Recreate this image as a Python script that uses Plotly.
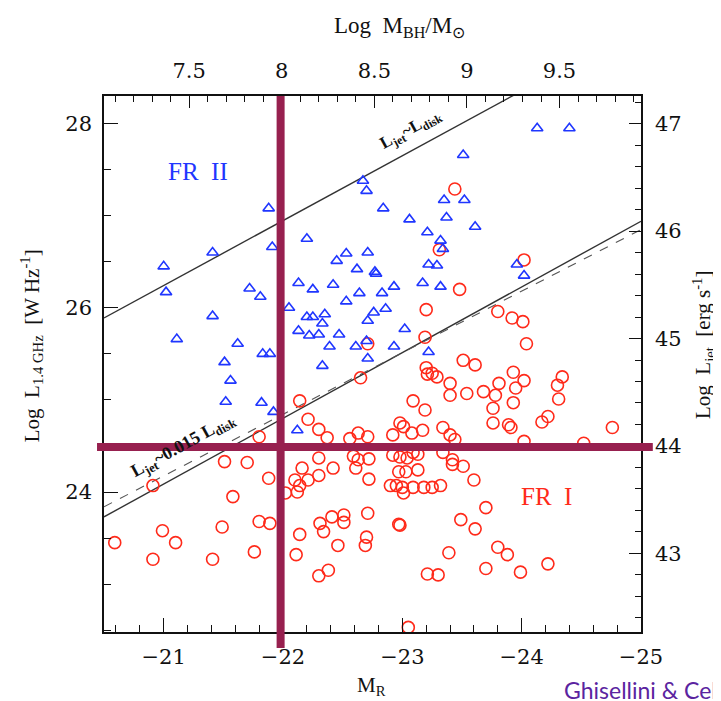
import plotly.graph_objects as go

# ---------------- data ----------------
# FR II sources (blue triangles): absolute R magnitude, log L(1.4 GHz)
fr2_MR = [-21.00, -21.02, -21.11, -21.41, -21.41, -21.62, -21.72, -21.81, -21.88, -21.91,
          -21.83, -21.89, -21.51, -21.56, -21.52, -21.82, -21.92, -22.12, -22.05, -22.13,
          -22.20, -22.25, -22.42, -22.45, -22.53, -22.62, -22.64, -22.53, -22.20, -22.25,
          -22.35, -22.33, -22.13, -22.22, -22.30, -22.47, -22.39, -22.61, -22.33, -22.67,
          -22.70, -22.71, -22.77, -22.78, -22.83, -22.93, -22.76, -22.86, -22.71, -22.70,
          -22.71, -22.93, -23.02, -23.17, -23.32, -23.22, -23.29, -23.32, -23.34, -23.21,
          -23.37, -23.06, -22.84, -23.35, -23.52, -23.51, -24.13, -24.40, -23.61, -23.96,
          -24.02, -23.22]
fr2_logL = [26.45, 26.17, 25.66, 26.60, 25.91, 25.61, 26.21, 26.12, 27.08, 26.66,
            25.50, 25.50, 25.41, 25.21, 24.98, 24.97, 24.87, 24.67, 26.00, 26.27,
            26.75, 26.20, 26.25, 26.51, 26.59, 26.42, 26.16, 26.07, 25.90, 25.90,
            25.93, 25.83, 25.75, 25.70, 25.71, 25.71, 25.58, 25.58, 25.37, 27.38,
            27.27, 26.60, 26.39, 26.37, 26.16, 26.23, 25.95, 25.99, 25.86, 25.64,
            25.45, 25.58, 25.77, 26.27, 26.23, 26.47, 26.46, 26.73, 26.64, 26.82,
            26.98, 26.96, 27.08, 27.17, 27.17, 27.66, 27.95, 27.95, 26.88, 26.47,
            26.35, 25.52]

# FR I sources (red circles)
fr1_MR = [-20.59, -20.91, -20.91, -20.99, -21.10, -21.41, -21.49, -21.51, -21.58, -21.70,
          -21.76, -21.80, -21.89, -21.80, -21.88, -22.02, -22.12, -22.10, -22.14, -22.21,
          -22.30, -22.16, -22.30, -22.42, -22.14, -22.11, -22.31, -22.34, -22.41, -22.51,
          -22.51, -22.46, -22.30, -22.38, -22.71, -22.70, -22.69, -22.97, -22.14, -22.21,
          -22.30, -22.37, -22.65, -22.56, -22.63, -22.71, -22.59, -22.63, -22.61, -22.72,
          -22.72, -22.92, -22.92, -22.90, -22.95, -22.98, -23.01, -23.09, -23.19, -23.17,
          -22.98, -23.04, -23.13, -22.97, -23.03, -23.13, -23.00, -23.09, -23.18, -23.25,
          -23.32, -23.01, -23.34, -23.40, -23.44, -23.42, -23.34, -23.21, -23.25, -23.29,
          -23.40, -23.40, -23.51, -23.61, -23.54, -23.68, -23.81, -23.78, -23.76, -23.93,
          -24.02, -23.95, -23.93, -24.34, -24.30, -24.31, -23.08, -23.76, -23.89, -23.91,
          -24.22, -24.17, -24.02, -24.52, -24.76, -23.42, -23.51, -23.60, -23.70, -22.98,
          -23.49, -23.61, -23.80, -23.88, -24.22, -23.39, -23.70, -23.99, -23.21, -23.30,
          -23.05, -23.44, -23.31, -24.02, -23.48, -23.20, -23.80, -23.92, -24.01, -23.19,
          -24.04, -22.71, -23.20, -23.09]
fr1_logL = [23.45, 24.07, 23.27, 23.58, 23.45, 23.27, 23.62, 24.33, 23.95, 24.32,
            23.35, 23.68, 23.66, 24.60, 24.15, 23.99, 24.00, 24.13, 24.07, 24.13,
            24.18, 24.26, 24.37, 24.26, 23.54, 23.32, 23.66, 23.57, 23.73, 23.75,
            23.67, 23.42, 23.09, 23.15, 23.77, 23.51, 23.42, 23.65, 24.99, 24.79,
            24.68, 24.59, 25.24, 24.58, 24.64, 24.60, 24.39, 24.35, 24.26, 24.36,
            24.14, 24.62, 24.40, 24.07, 24.07, 24.75, 24.71, 24.99, 24.89, 24.67,
            24.38, 24.37, 24.41, 24.22, 24.22, 24.24, 24.05, 24.05, 24.05, 24.05,
            24.07, 23.99, 24.70, 24.62, 24.57, 24.35, 24.43, 25.28, 25.29, 25.25,
            25.18, 25.05, 25.43, 25.38, 25.07, 25.09, 25.18, 25.05, 24.91, 25.30,
            25.21, 25.13, 24.97, 25.25, 25.16, 25.01, 24.64, 24.75, 24.73, 24.70,
            24.82, 24.76, 24.55, 24.53, 24.70, 24.30, 24.28, 24.13, 23.83, 23.64,
            23.70, 23.60, 23.40, 23.32, 23.22, 23.34, 23.17, 23.13, 23.11, 23.10,
            22.53, 27.29, 26.63, 26.52, 26.20, 25.98, 25.96, 25.89, 25.85, 25.68,
            25.61, 25.61, 25.35, 24.43]

# reference relations (end points across the M_R range)
line_MR = [-20.5, -25.0]
jet_eq_disk_L = [25.89, 29.06]        # L_jet ~ L_disk
jet_0015_disk_L = [23.73, 26.94]      # L_jet ~ 0.015 L_disk (solid)
jet_0015_alt_L = [23.84, 26.85]       # dashed variant

# dividing lines
div_MR = -21.98
div_logL = 24.49

# axis ranges
x_range = [-20.5, -25.0]
y_range = [22.48, 28.30]
mbh_range = [7.04, 9.94]                              # top axis: log M_BH/M_sun
ljet_range = [6.0 / 7.0 * v + 23.0 for v in y_range]  # right axis: log L_jet

# ---------------- figure ----------------
BLUE = "#1f36ff"
RED = "#ff2a1a"
MAROON = "#97204f"
SERIF = "Liberation Serif"
TICKSERIF = "DejaVu Serif"
INK = "#111111"

fig = go.Figure()

fig.add_trace(go.Scatter(x=line_MR, y=jet_eq_disk_L, mode="lines",
                         line=dict(color="#333333", width=1.4), hoverinfo="skip"))
fig.add_trace(go.Scatter(x=line_MR, y=jet_0015_disk_L, mode="lines",
                         line=dict(color="#333333", width=1.4), hoverinfo="skip"))
fig.add_trace(go.Scatter(x=line_MR, y=jet_0015_alt_L, mode="lines",
                         line=dict(color="#555555", width=1.1, dash="dash"), hoverinfo="skip"))

fig.add_trace(go.Scatter(x=fr1_MR, y=fr1_logL, mode="markers", name="FR I",
                         marker=dict(symbol="circle-open", size=12, color=RED,
                                     line=dict(width=1.6, color=RED))))
fig.add_trace(go.Scatter(x=fr2_MR, y=fr2_logL, mode="markers", name="FR II",
                         marker=dict(symbol="triangle-up-open", size=10, color=BLUE,
                                     line=dict(width=1.6, color=BLUE))))

# invisible trace to hold secondary axes
fig.add_trace(go.Scatter(x=[mbh_range[0]], y=[ljet_range[0]], xaxis="x2", yaxis="y2",
                         mode="markers", marker=dict(opacity=0), hoverinfo="skip"))

tickfont = dict(family=TICKSERIF, size=21, color=INK)
common = dict(showgrid=False, zeroline=False, showline=True, linecolor=INK,
              linewidth=1.6, ticks="inside", tickcolor=INK, tickwidth=1.3,
              tickfont=tickfont, autorange=False)

# the page body adds an 8 px offset, so the figure is 8 px smaller than the window
fig.update_layout(
    width=713, height=693,
    margin=dict(l=96, r=80, t=88, b=69),
    paper_bgcolor="white", plot_bgcolor="white",
    showlegend=False,
    xaxis=dict(range=x_range, tick0=-21, dtick=1, ticklen=14, ticklabelstandoff=5,
               minor=dict(dtick=0.2, ticklen=7, ticks="inside", tickcolor=INK),
               **common),
    xaxis2=dict(range=mbh_range, overlaying="x", side="top", tick0=7.5, dtick=0.5,
                ticklen=12, ticklabelstandoff=8,
                minor=dict(dtick=0.1, ticklen=6, ticks="inside", tickcolor=INK),
                **common),
    yaxis=dict(range=y_range, tick0=24, dtick=2, ticklen=14, ticklabelstandoff=6,
               minor=dict(dtick=0.5, ticklen=7, ticks="inside", tickcolor=INK),
               **common),
    yaxis2=dict(range=ljet_range, overlaying="y", side="right", tick0=43, dtick=1,
                ticklen=12, ticklabelstandoff=8,
                minor=dict(dtick=0.2, ticklen=6, ticks="inside", tickcolor=INK),
                **common),
)

# thick dividing bars
fig.add_shape(type="line", xref="x", yref="paper", x0=div_MR, x1=div_MR, y0=-0.03, y1=1.0,
              line=dict(color=MAROON, width=8), layer="above")
fig.add_shape(type="line", xref="paper", yref="y", x0=-0.013, x1=1.022, y0=div_logL, y1=div_logL,
              line=dict(color=MAROON, width=8), layer="above")

def note(x, y, text, size, color=INK, ref="paper", angle=0, family=SERIF, xanchor="center"):
    fig.add_annotation(x=x, y=y, xref="x" if ref == "data" else "paper",
                       yref="y" if ref == "data" else "paper", text=text, showarrow=False,
                       textangle=angle, xanchor=xanchor, yanchor="middle",
                       font=dict(family=family, size=size, color=color))

# labels inside the plot
note(-21.29, 27.48, "FR  II", 25, BLUE, ref="data")
note(-24.21, 23.95, "FR  I", 25, RED, ref="data")
note(-23.07, 27.93, "<b>L<sub>jet</sub>~L<sub>disk</sub></b>", 17, ref="data", angle=-28.6)
note(-21.17, 24.50, "<b>L<sub>jet</sub>~0.015 L<sub>disk</sub></b>", 18, ref="data", angle=-28.8)

# axis titles
note(0.551, 1.128, "Log  M<sub>BH</sub>/M<sub>⊙</sub>", 23)
note(0.499, -0.10, "M<sub>R</sub>", 21)
note(-0.136, 0.535, "Log  L<sub>1.4 GHz</sub>  [W Hz<sup>-1</sup>]", 21, angle=-90)
note(1.115, 0.535, "Log  L<sub>jet</sub>  [erg s<sup>-1</sup>]", 21, angle=-90)

note(0.852, -0.108, "Ghisellini & Celotti", 23, "#5b24a0", family="Lato", xanchor="left")

fig.write_html("out.html")
